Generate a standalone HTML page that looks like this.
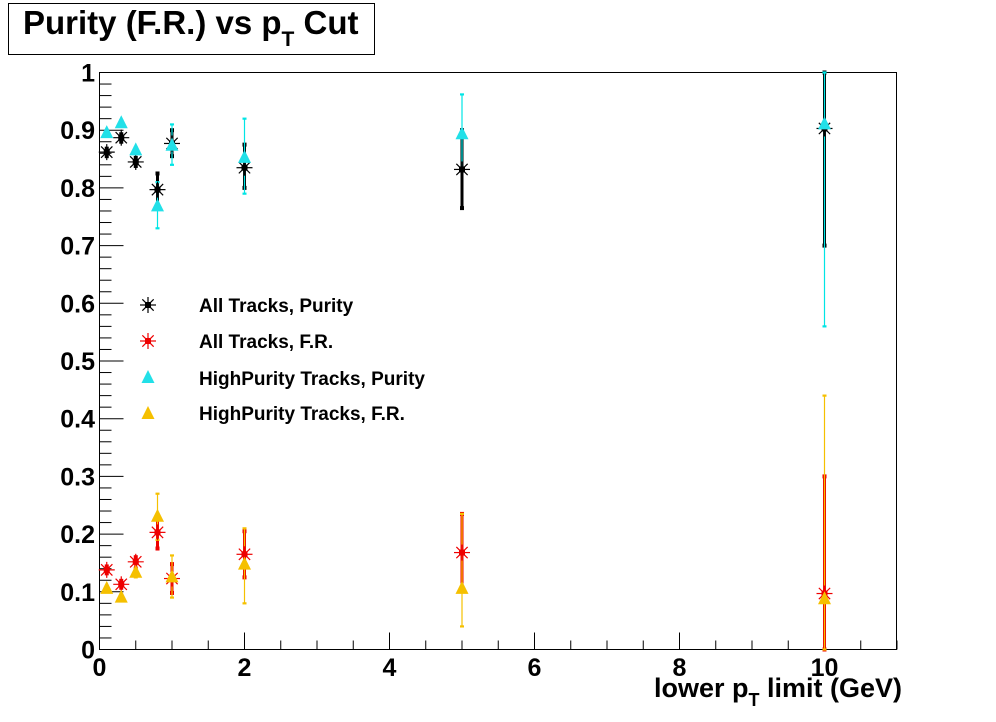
<!DOCTYPE html>
<html><head><meta charset="utf-8"><style>
html,body{margin:0;padding:0;background:#fff;}
svg{display:block;font-family:"Liberation Sans",Arial,sans-serif;font-weight:bold;}
</style></head><body>
<svg id="s" width="996" height="722" viewBox="0 0 996 722" xmlns="http://www.w3.org/2000/svg">
<rect x="0" y="0" width="996" height="722" fill="#fff"/>
<rect x="8.5" y="3.5" width="366" height="51" fill="#fff" stroke="#000" stroke-width="1"/>
<text x="23" y="34" font-size="33">Purity (F.R.) vs p<tspan font-size="21" dy="12">T</tspan><tspan dy="-12"> Cut</tspan></text>
<rect x="99.5" y="72.5" width="797" height="577" fill="none" stroke="#000" stroke-width="1"/>
<g id="ticks" stroke="#000" stroke-width="1"></g>
<g id="labels" font-size="25"></g>
<text x="902" y="697" font-size="27" text-anchor="end">lower p<tspan font-size="18" dy="9">T</tspan><tspan dy="-9"> limit (GeV)</tspan></text>
<g id="data"></g>
<g font-size="19">
<text x="199" y="312">All Tracks, Purity</text>
<text x="199" y="348">All Tracks, F.R.</text>
<text x="199" y="385">HighPurity Tracks, Purity</text>
<text x="199" y="420">HighPurity Tracks, F.R.</text>
</g>
</svg>
<script>
const NS="http://www.w3.org/2000/svg";
function el(p,t,a){const e=document.createElementNS(NS,t);for(const k in a)e.setAttribute(k,a[k]);p.appendChild(e);return e;}
const X=v=>99.5+72.5*v, Y=v=>72.5+577*(1-v);
const tk=document.getElementById('ticks'), lb=document.getElementById('labels');
for(let i=0;i<=50;i++){const v=i/50,y=Y(v),L=(i%5==0)?24:12;el(tk,'line',{x1:99.5,x2:99.5+L,y1:y,y2:y});}
for(let i=0;i<=10;i++){const v=i/10;const t=el(lb,'text',{x:95,y:Y(v)+9,'text-anchor':'end'});t.textContent=(i==0?'0':i==10?'1':v.toFixed(1));}
for(let i=0;i<=22;i++){const v=i/2,x=X(v),L=(i%4==0)?17:9;el(tk,'line',{x1:x,x2:x,y1:649.5,y2:649.5-L});}
for(let i=0;i<=10;i+=2){const t=el(lb,'text',{x:X(i),y:676,'text-anchor':'middle'});t.textContent=i;}
const d=document.getElementById('data');
function star(x,y,c,s){s=s||8;for(const a of[0,45,90,135]){const r=a*Math.PI/180;el(d,'line',{x1:x-s*Math.cos(r),y1:y-s*Math.sin(r),x2:x+s*Math.cos(r),y2:y+s*Math.sin(r),stroke:c,'stroke-width':1.2});}el(d,'rect',{x:x-3,y:y-3,width:6,height:6,fill:c});}
function tri(x,y,c){el(d,'polygon',{points:`${x-6.5},${y+5} ${x+6.5},${y+5} ${x},${y-8}`,fill:c});}
function err(x,lo,hi,c,w){el(d,'line',{x1:x,x2:x,y1:Y(lo),y2:Y(hi),stroke:c,'stroke-width':w});el(d,'line',{x1:x-2,x2:x+2,y1:Y(lo),y2:Y(lo),stroke:c,'stroke-width':w+1});el(d,'line',{x1:x-2,x2:x+2,y1:Y(hi),y2:Y(hi),stroke:c,'stroke-width':w+1});}
const xs=[0.1,0.3,0.5,0.8,1,2,5,10];
const blk=[[.862,.855,.868],[.887,.88,.893],[.845,.838,.852],[.797,.77,.825],[.877,.855,.9],[.835,.8,.875],[.832,.765,.9],[.903,.7,1.0]];
const cyn=[[.895,.89,.9],[.912,.907,.917],[.865,.86,.87],[.768,.73,.81],[.873,.84,.91],[.852,.79,.92],[.893,.83,.962],[.91,.56,1.0]];
const red=[[.138,.132,.144],[.113,.107,.119],[.152,.14,.16],[.203,.175,.23],[.123,.098,.148],[.165,.125,.205],[.168,.105,.235],[.097,0,.3]];
const yel=[[.105,.1,.11],[.09,.085,.095],[.133,.125,.14],[.23,.19,.27],[.125,.09,.163],[.147,.08,.21],[.105,.04,.235],[.087,0,.44]];
xs.forEach((v,i)=>{const x=X(v);
 err(x,blk[i][1],blk[i][2],'#000',3);
 err(x,cyn[i][1],cyn[i][2],'#00e5e5',1.2);
 star(x,Y(blk[i][0]),'#000');tri(x,Y(cyn[i][0]),'#22e0e8');
 err(x,red[i][1],red[i][2],'#ee0000',3);
 err(x,yel[i][1],yel[i][2],'#f5c000',1.2);
 star(x,Y(red[i][0]),'#ee0000');tri(x,Y(yel[i][0]),'#f5c000');
});
star(148,305,'#000');star(148,341,'#ee0000');tri(148,378,'#22e0e8');tri(148,414,'#f5c000');
</script>
</body></html>
